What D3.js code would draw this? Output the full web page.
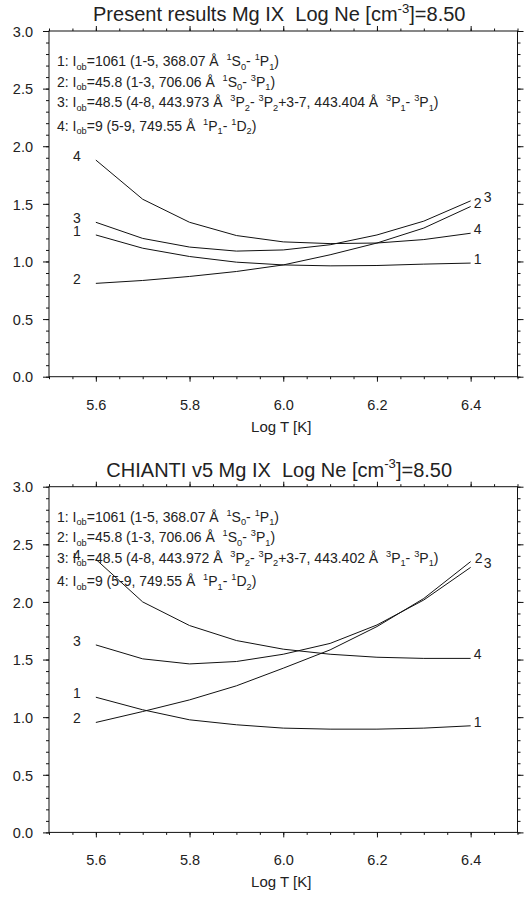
<!DOCTYPE html>
<html><head><meta charset="utf-8">
<script src="https://cdn.jsdelivr.net/npm/d3@7"></script>
<style>
body{margin:0;background:#fff;}
text{font-family:"Liberation Sans",Arial,Helvetica,sans-serif;fill:#222;white-space:pre;}
</style>
</head><body>
<svg id="chart" width="527" height="897"></svg>
<script>
// ---------- data ----------
const logT = [5.6, 5.7, 5.8, 5.9, 6.0, 6.1, 6.2, 6.3, 6.4];

const presentS1 = [1.23, 1.115, 1.043, 0.994, 0.970, 0.962, 0.965, 0.977, 0.986];
const presentS2 = [0.81, 0.835, 0.870, 0.913, 0.970, 1.058, 1.160, 1.290, 1.477];
const presentS3 = [1.34, 1.200, 1.125, 1.090, 1.100, 1.145, 1.230, 1.350, 1.526];
const presentS4 = [1.88, 1.540, 1.340, 1.225, 1.170, 1.155, 1.160, 1.190, 1.245];

const chiantiS1 = [1.173, 1.064, 0.977, 0.934, 0.905, 0.896, 0.896, 0.905, 0.925];
const chiantiS2 = [0.954, 1.049, 1.150, 1.272, 1.425, 1.584, 1.786, 2.030, 2.350];
const chiantiS3 = [1.627, 1.506, 1.462, 1.483, 1.546, 1.640, 1.800, 2.017, 2.300];
const chiantiS4 = [2.370, 2.000, 1.795, 1.665, 1.590, 1.546, 1.520, 1.510, 1.510];

const seriesNames = ["1", "2", "3", "4"];

const xTicks = [5.6, 5.8, 6.0, 6.2, 6.4];
const xTickLabels = ["5.6", "5.8", "6.0", "6.2", "6.4"];
const yTicks = [0, 0.5, 1.0, 1.5, 2.0, 2.5, 3.0];
const yTickLabels = ["0.0", "0.5", "1.0", "1.5", "2.0", "2.5", "3.0"];
const xLabel = "Log T [K]";

const titlePresent = "Present results Mg IX  Log Ne [cm^{-3}]=8.50";
const titleChianti = "CHIANTI v5 Mg IX  Log Ne [cm^{-3}]=8.50";

const legendPresent = [
  "1: I_{ob}=1061 (1-5, 368.07 Å  ^{1}S_{0}- ^{1}P_{1})",
  "2: I_{ob}=45.8 (1-3, 706.06 Å  ^{1}S_{0}- ^{3}P_{1})",
  "3: I_{ob}=48.5 (4-8, 443.973 Å  ^{3}P_{2}- ^{3}P_{2}+3-7, 443.404 Å  ^{3}P_{1}- ^{3}P_{1})",
  "4: I_{ob}=9 (5-9, 749.55 Å  ^{1}P_{1}- ^{1}D_{2})"
];
const legendChianti = [
  "1: I_{ob}=1061 (1-5, 368.07 Å  ^{1}S_{0}- ^{1}P_{1})",
  "2: I_{ob}=45.8 (1-3, 706.06 Å  ^{1}S_{0}- ^{3}P_{1})",
  "3: I_{ob}=48.5 (4-8, 443.972 Å  ^{3}P_{2}- ^{3}P_{2}+3-7, 443.402 Å  ^{3}P_{1}- ^{3}P_{1})",
  "4: I_{ob}=9 (5-9, 749.55 Å  ^{1}P_{1}- ^{1}D_{2})"
];

// ---------- layout ----------
const svg = d3.select("#chart");
const x = d3.scaleLinear().domain([5.5, 6.5]).range([49, 517.5]);
const xMinor = d3.range(5.5, 6.5001, 0.05).map(v => +v.toFixed(2));
const yMinor = d3.range(0, 3.0001, 0.1).map(v => +v.toFixed(1));

const panels = [
  { top: 31, bottom: 376.7, title: titlePresent, legend: legendPresent,
    series: [presentS1, presentS2, presentS3, presentS4],
    rightDx: [7, 7, 17, 7] },
  { top: 486.7, bottom: 832.4, title: titleChianti, legend: legendChianti,
    series: [chiantiS1, chiantiS2, chiantiS3, chiantiS4],
    rightDx: [7, 8, 17, 7] }
];
const legendDy = [35, 55.5, 76, 99.5];

function rich(sel, str, size) {
  const parts = str.split(/(\^\{[^}]*\}|_\{[^}]*\})/).filter(s => s.length);
  let off = 0;
  parts.forEach(s => {
    let target = 0, t = s, fs = size;
    if (s.startsWith("^{")) { target = -size * 0.42; t = s.slice(2, -1); fs = size * 0.66; }
    else if (s.startsWith("_{")) { target = size * 0.26; t = s.slice(2, -1); fs = size * 0.66; }
    sel.append("tspan").attr("dy", target - off).attr("font-size", fs).text(t);
    off = target;
  });
}

function styleAxis(g) {
  g.select(".domain").remove();
  g.selectAll("line").attr("stroke", "#111").attr("stroke-width", 1);
  g.attr("font-family", null).attr("font-size", null);
}

panels.forEach(p => {
  const y = d3.scaleLinear().domain([0, 3]).range([p.bottom, p.top]);
  const g = svg.append("g");

  // minor ticks
  g.append("g").attr("transform", `translate(0,${p.bottom})`)
    .call(d3.axisBottom(x).tickValues(xMinor).tickSize(2.5).tickFormat("").tickSizeOuter(0)).call(styleAxis);
  g.append("g").attr("transform", `translate(0,${p.top})`)
    .call(d3.axisTop(x).tickValues(xMinor).tickSize(2.5).tickFormat("").tickSizeOuter(0)).call(styleAxis);
  g.append("g").attr("transform", `translate(${x.range()[0]},0)`)
    .call(d3.axisLeft(y).tickValues(yMinor).tickSize(3).tickFormat("").tickSizeOuter(0)).call(styleAxis);
  g.append("g").attr("transform", `translate(${x.range()[1]},0)`)
    .call(d3.axisRight(y).tickValues(yMinor).tickSize(3).tickFormat("").tickSizeOuter(0)).call(styleAxis);

  // major ticks
  const xb = g.append("g").attr("transform", `translate(0,${p.bottom})`)
    .call(d3.axisBottom(x).tickValues(xTicks).tickSize(5).tickSizeOuter(0)
      .tickFormat((d, i) => xTickLabels[i])).call(styleAxis);
  xb.selectAll("text").attr("y", 33).attr("dy", null).attr("font-size", 14.5);
  g.append("g").attr("transform", `translate(0,${p.top})`)
    .call(d3.axisTop(x).tickValues(xTicks).tickSize(5).tickFormat("").tickSizeOuter(0)).call(styleAxis);
  const yl = g.append("g").attr("transform", `translate(${x.range()[0]},0)`)
    .call(d3.axisLeft(y).tickValues(yTicks).tickSize(6).tickPadding(10).tickSizeOuter(0)
      .tickFormat((d, i) => yTickLabels[i])).call(styleAxis);
  yl.selectAll("text").attr("dy", "0.36em").attr("font-size", 14.5);
  g.append("g").attr("transform", `translate(${x.range()[1]},0)`)
    .call(d3.axisRight(y).tickValues(yTicks).tickSize(6).tickFormat("").tickSizeOuter(0)).call(styleAxis);

  // frame
  g.append("rect").attr("x", x.range()[0]).attr("y", p.top)
    .attr("width", x.range()[1] - x.range()[0]).attr("height", p.bottom - p.top)
    .attr("fill", "none").attr("stroke", "#111").attr("stroke-width", 1);

  // title
  const t = g.append("text").attr("x", (x.range()[0] + x.range()[1]) / 2 - 4).attr("y", p.top - 10)
    .attr("text-anchor", "middle").attr("font-size", 20);
  rich(t, p.title, 20);

  // x label
  g.append("text").attr("x", (x.range()[0] + x.range()[1]) / 2 - 2).attr("y", p.bottom + 55)
    .attr("text-anchor", "middle").attr("font-size", 15).text(xLabel);

  // legend
  p.legend.forEach((s, i) => {
    const lt = g.append("text").attr("x", x.range()[0] + 8).attr("y", p.top + legendDy[i]).attr("font-size", 14);
    rich(lt, s, 14);
  });

  // curves
  const line = d3.line().x((d, i) => x(logT[i])).y(d => y(d));
  p.series.forEach((s, k) => {
    g.append("path").datum(s).attr("d", line)
      .attr("fill", "none").attr("stroke", "#111").attr("stroke-width", 1);
    g.append("text").attr("x", x(logT[0]) - 19).attr("y", y(s[0]) + 1)
      .attr("text-anchor", "middle").attr("font-size", 14).text(seriesNames[k]);
    g.append("text").attr("x", x(logT[logT.length - 1]) + p.rightDx[k]).attr("y", y(s[s.length - 1]) + 1)
      .attr("text-anchor", "middle").attr("font-size", 14).text(seriesNames[k]);
  });
});
</script>
</body></html>
